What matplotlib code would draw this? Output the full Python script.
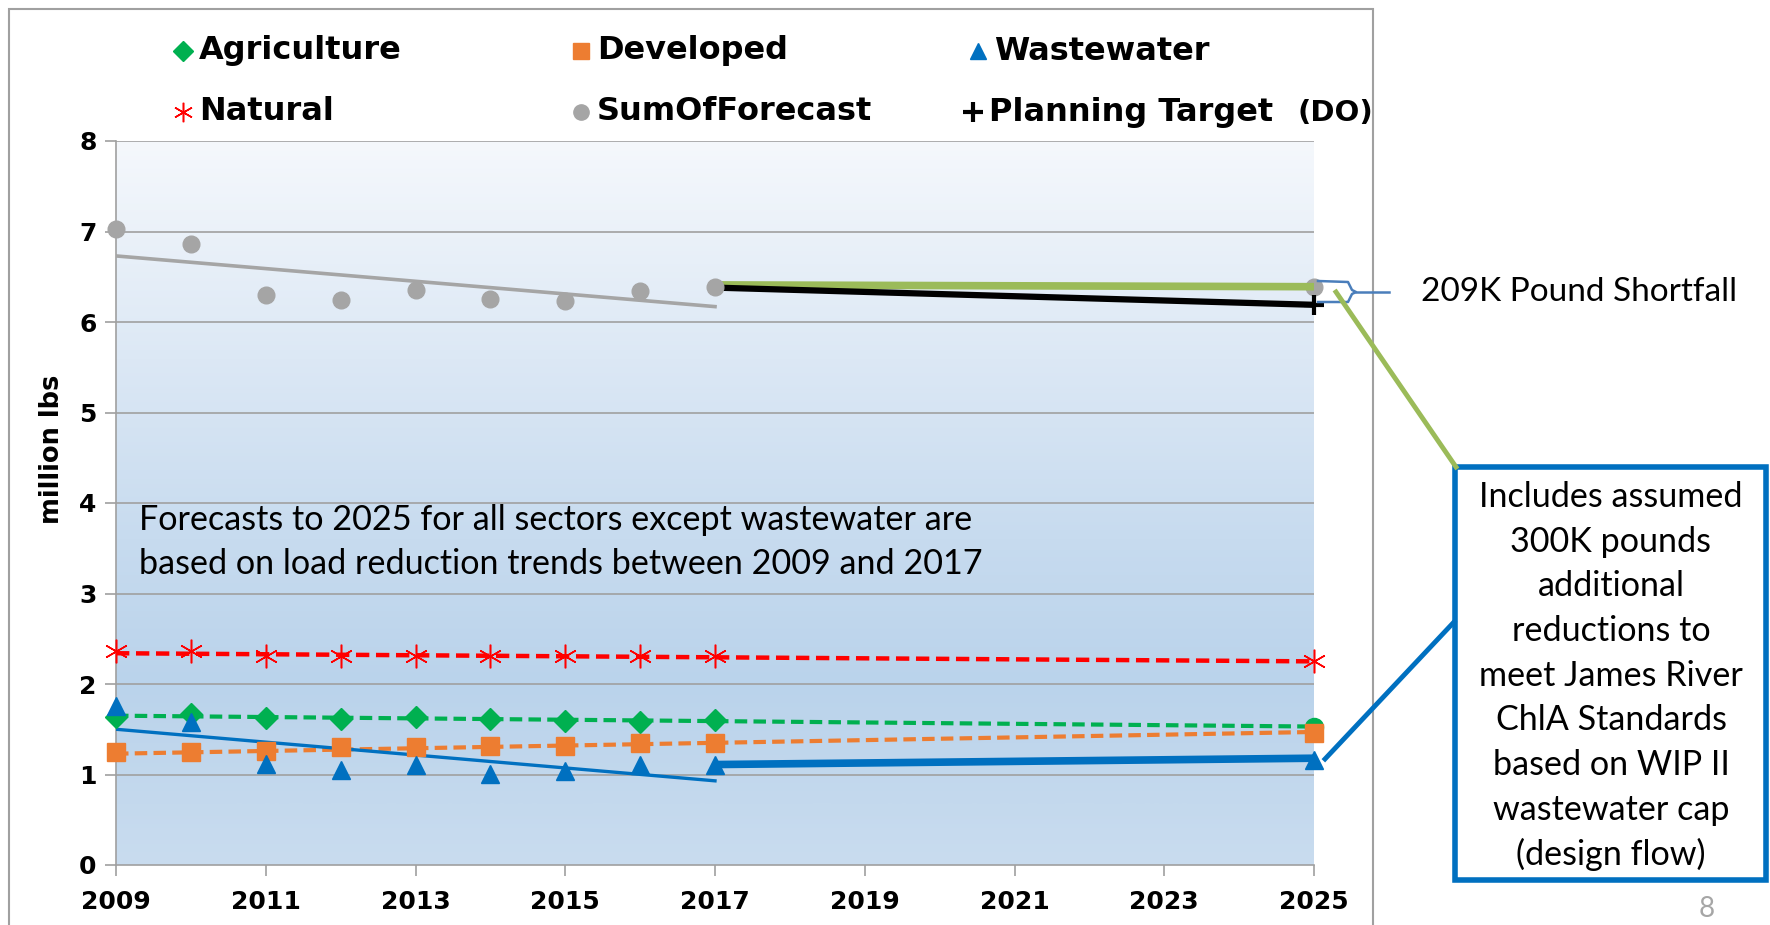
import numpy as np
import matplotlib
matplotlib.use("Agg")
import matplotlib.pyplot as plt
from matplotlib.lines import Line2D
from matplotlib.patches import Rectangle
from matplotlib.colors import LinearSegmentedColormap

# ---------------- data ----------------
years = [2009, 2010, 2011, 2012, 2013, 2014, 2015, 2016, 2017]
agriculture = [1.64, 1.67, 1.62, 1.61, 1.63, 1.61, 1.59, 1.58, 1.60]
developed = [1.25, 1.25, 1.26, 1.30, 1.30, 1.32, 1.31, 1.35, 1.35]
wastewater = [1.76, 1.58, 1.12, 1.05, 1.11, 1.01, 1.04, 1.10, 1.10]
natural = [2.36, 2.36, 2.31, 2.31, 2.31, 2.31, 2.31, 2.31, 2.31]
sum_forecast = [7.03, 6.86, 6.30, 6.24, 6.35, 6.25, 6.23, 6.34, 6.39]

year_2025 = 2025
agri_2025 = 1.52
dev_2025 = 1.46
ww_2025 = 1.16
nat_2025 = 2.25
sum_2025 = 6.39
target_2025 = 6.19

# trend lines (start/end values)
trend_years = [2009, 2025]
agri_trend = [1.65, 1.53]
dev_trend = [1.23, 1.47]
nat_trend = [2.34, 2.25]
sum_trend_years = [2009, 2017]
sum_trend = [6.73, 6.17]
ww_trend_years = [2009, 2017]
ww_trend = [1.50, 0.93]
proj_years = [2017, 2025]
ww_proj = [1.11, 1.18]
sum_proj = [6.41, 6.39]
target_proj = [6.38, 6.19]

xticks = [2009, 2011, 2013, 2015, 2017, 2019, 2021, 2023, 2025]
yticks = [0, 1, 2, 3, 4, 5, 6, 7, 8]

note_lines = ["Forecasts to 2025 for all sectors except wastewater are",
              "based on load reduction trends between 2009 and 2017"]
box_lines = ["Includes assumed", "300K pounds", "additional", "reductions to",
             "meet James River", "ChlA Standards", "based on WIP II",
             "wastewater cap", "(design flow)"]

GREEN = "#00B050"
ORANGE = "#ED7D31"
BLUE = "#0070C0"
RED = "#FF0000"
GRAY = "#A5A5A5"
LGREEN = "#9BBB59"

W, H = 1770, 925
fig = plt.figure(figsize=(W / 100, H / 100), dpi=100)


def fx(px):
    return px / W


def fy(py):
    return 1 - py / H


ax = fig.add_axes([fx(116), fy(865), fx(1314) - fx(116), (865 - 141) / H])
ax.set_xlim(2009, 2025)
ax.set_ylim(0, 8)

# gradient background
stops = [(0.0, "#C9DCEF"), (0.25, "#BAD3EB"), (0.45, "#C7DBEF"),
         (0.7, "#DCE8F5"), (1.0, "#F5F8FC")]
cmap = LinearSegmentedColormap.from_list("bg", stops)
grad = np.linspace(0, 1, 256).reshape(-1, 1)
ax.imshow(grad, extent=[2009, 2025, 0, 8], origin="lower", aspect="auto",
          cmap=cmap, zorder=0, interpolation="bicubic")

for y in yticks[1:]:
    ax.axhline(y, color="#A0A0A0", lw=1.2, zorder=1)

for s in ["top", "right"]:
    ax.spines[s].set_visible(False)
for s in ["left", "bottom"]:
    ax.spines[s].set_color("#A0A0A0")
    ax.spines[s].set_linewidth(1.2)

ax.set_xticks(xticks)
ax.set_yticks(yticks)
ax.tick_params(axis="both", colors="#A0A0A0", length=8, width=1.2,
               labelcolor="black", labelsize=18)
ax.tick_params(axis="x", pad=10)
ax.tick_params(axis="y", pad=6)
for lab in ax.get_xticklabels() + ax.get_yticklabels():
    lab.set_fontweight("bold")

# trend / projection lines
dash = (0, (3, 1.5))
ax.plot(sum_trend_years, sum_trend, color=GRAY, lw=2.6, zorder=3)
ax.plot(trend_years, nat_trend, color=RED, lw=3.2, ls=dash, zorder=3)
ax.plot(trend_years, agri_trend, color=GREEN, lw=3.0, ls=dash, zorder=3)
ax.plot(trend_years, dev_trend, color=ORANGE, lw=3.0, ls=dash, zorder=3)
ax.plot(ww_trend_years, ww_trend, color=BLUE, lw=2.4, zorder=3)
ax.plot(proj_years, ww_proj, color=BLUE, lw=5.5, zorder=3, solid_capstyle="butt")
ax.plot(proj_years, sum_proj, color=LGREEN, lw=5.5, zorder=4, solid_capstyle="butt")
ax.plot(proj_years, target_proj, color="black", lw=4.5, zorder=4, solid_capstyle="butt")

# markers
ax.plot(years, sum_forecast, "o", color=GRAY, ms=12, mec=GRAY, zorder=5, clip_on=False)
ax.plot([year_2025], [sum_2025], "o", color=GRAY, ms=12, zorder=3, clip_on=False)
ax.plot([year_2025], [target_2025], "+", color="black", ms=15, mew=3, zorder=6, clip_on=False)
star = (6, 2, 0)
ax.plot(years + [year_2025], natural + [nat_2025], ls="none", marker=star,
        color=RED, ms=17, mew=1.1, zorder=5, clip_on=False)
ax.plot(years, agriculture, "D", color=GREEN, ms=11, zorder=5, clip_on=False)
ax.plot([year_2025], [agri_2025], "o", color=GREEN, ms=13, zorder=5, clip_on=False)
ax.plot(years + [year_2025], developed + [dev_2025], "s", color=ORANGE,
        ms=13, zorder=5, clip_on=False)
ax.plot(years + [year_2025], wastewater + [ww_2025], "^", color=BLUE,
        ms=13, zorder=6, clip_on=False)

ax.set_ylabel("million lbs", fontsize=18.5, fontweight="bold", family="DejaVu Sans")
ax.yaxis.set_label_coords((65 - 116) / (1314 - 116), (865 - 449) / (865 - 141))

# note text inside the plot
for py, line in zip([520, 564], note_lines):
    fig.text(fx(139), fy(py), line, fontsize=24.6, family="Lato",
             va="center", ha="left", zorder=7)

# outer frame
fig.add_artist(Rectangle((fx(9), -0.01), fx(1373) - fx(9), fy(9) + 0.01,
                         transform=fig.transFigure, fill=False,
                         edgecolor="#A0A0A0", lw=1.5))

# legend (manual)
leg_font = dict(fontsize=23, fontweight="bold", family="DejaVu Sans", va="center")
entries = [
    (183, 51, "D", GREEN, "Agriculture", 10, 1),
    (581, 51, "s", ORANGE, "Developed", 11, 1),
    (978, 51, "^", BLUE, "Wastewater", 11, 1),
    (183, 112, star, RED, "Natural", 14, 1.1),
    (581, 112, "o", GRAY, "SumOfForecast", 11, 1),
    (973, 112, "+", "black", "Planning Target", 15, 3),
]
for (mx, my, mk, col, lab, ms, mew) in entries:
    fig.add_artist(Line2D([fx(mx)], [fy(my)], marker=mk, color=col, ms=ms,
                          mew=mew, ls="none", transform=fig.transFigure))
    fig.text(fx(mx + 16), fy(my), lab, **leg_font)
fig.text(fx(1297), fy(113), "(DO)", fontsize=21, fontweight="bold",
         family="DejaVu Sans", va="center")

# shortfall brace and label
bx = [fx(1318), fx(1348), fx(1352), fx(1356), fx(1352), fx(1348), fx(1318)]
by = [fy(281), fy(282), fy(290), fy(292), fy(294), fy(302), fy(302)]
fig.add_artist(Line2D(bx, by, color="#4A7EBB", lw=1.8, transform=fig.transFigure))
fig.add_artist(Line2D([fx(1356), fx(1389)], [fy(292), fy(292)], color="#4A7EBB",
                      lw=1.8, transform=fig.transFigure))
fig.text(fx(1421), fy(292), "209K Pound Shortfall", fontsize=24, family="Lato",
         va="center", ha="left")

# connector lines
fig.add_artist(Line2D([fx(1336), fx(1456)], [fy(292), fy(467)], color=LGREEN,
                      lw=3.5, transform=fig.transFigure))
fig.add_artist(Line2D([fx(1325), fx(1454)], [fy(759), fy(622)], color=BLUE,
                      lw=3.5, transform=fig.transFigure))

# text box
fig.add_artist(Rectangle((fx(1455), fy(880)), fx(1766) - fx(1455), (880 - 467) / H,
                         transform=fig.transFigure, fill=False,
                         edgecolor=BLUE, lw=4))
box_top, box_step = 497, 44.7
for i, line in enumerate(box_lines):
    fig.text(fx(1611), fy(box_top + i * box_step), line, fontsize=24.6,
             family="Lato", ha="center", va="center")

fig.text(fx(1707), fy(909), "8", fontsize=20, family="Lato", color="#A6A6A6",
         ha="center", va="center")

fig.savefig("out.png", dpi=100)
